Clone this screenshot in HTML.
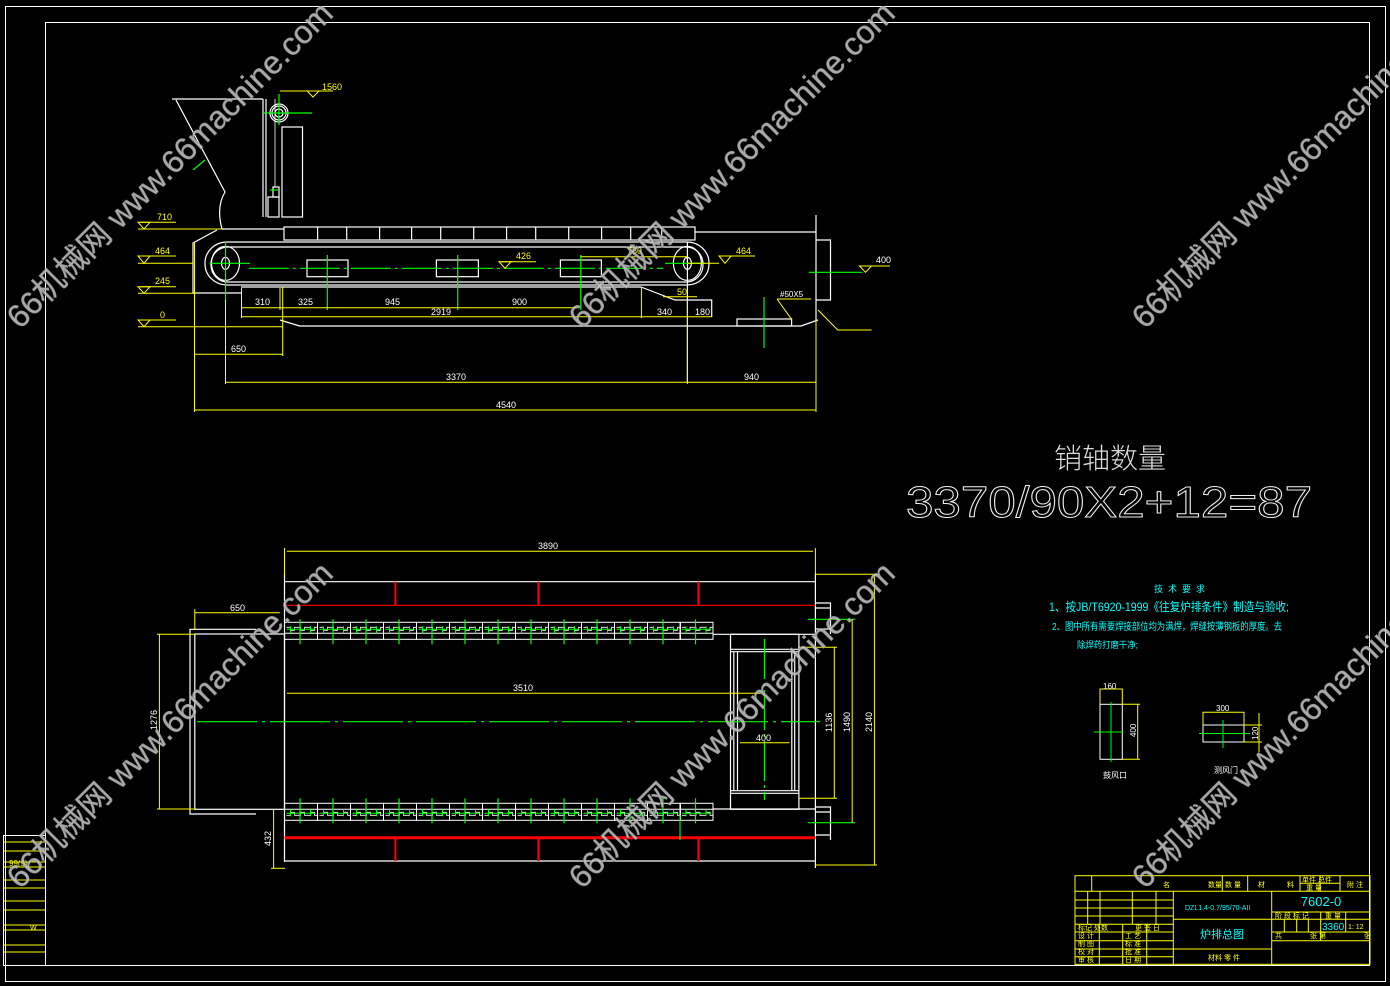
<!DOCTYPE html>
<html><head><meta charset="utf-8"><style>
html,body{margin:0;padding:0;background:#000;}
svg{display:block;}
text{font-family:"Liberation Sans","Noto Sans CJK SC",sans-serif;}
</style></head><body>
<svg width="1390" height="986" viewBox="0 0 1390 986" xmlns="http://www.w3.org/2000/svg">
<defs>
<g id="cellT">
 <rect x="0" y="0" width="33" height="17" fill="none" stroke="#fff" stroke-width="1"/>
 <line x1="0" y1="11" x2="33" y2="11" stroke="#fff"/>
 <path d="M2,5 h4 v3 h4 v-3 h6 v3 h4 v-3 h6 v3 h4 v-3 h3" fill="none" stroke="#fff" stroke-width="0.8"/>
 <line x1="2" y1="7" x2="31" y2="7" stroke="#0f0" stroke-width="1"/>
 <line x1="15.5" y1="-3" x2="15.5" y2="22" stroke="#0f0" stroke-width="1.2"/>
 <line x1="6" y1="4" x2="6" y2="11" stroke="#0f0"/>
 <line x1="26" y1="4" x2="26" y2="11" stroke="#0f0"/>
</g>
<g id="cellB">
 <rect x="0" y="0" width="33" height="17" fill="none" stroke="#fff" stroke-width="1"/>
 <line x1="0" y1="6" x2="33" y2="6" stroke="#fff"/>
 <path d="M2,12 h4 v-3 h4 v3 h6 v-3 h4 v3 h6 v-3 h4 v3 h3" fill="none" stroke="#fff" stroke-width="0.8"/>
 <line x1="2" y1="10" x2="31" y2="10" stroke="#0f0" stroke-width="1"/>
 <line x1="15.5" y1="-5" x2="15.5" y2="20" stroke="#0f0" stroke-width="1.2"/>
 <line x1="6" y1="6" x2="6" y2="13" stroke="#0f0"/>
 <line x1="26" y1="6" x2="26" y2="13" stroke="#0f0"/>
</g>
</defs>
<rect width="1390" height="986" fill="#000"/>
<!-- borders -->
<rect x="5.5" y="6.5" width="1380" height="975" fill="none" stroke="#fff"/>
<rect x="45.5" y="22.5" width="1324" height="943" fill="none" stroke="#fff"/>
<!-- left strip -->
<g stroke="#ff0" fill="none">
<rect x="3.5" y="835.5" width="42" height="130" stroke="#fff"/>
<line x1="3" y1="842" x2="45" y2="842"/><line x1="3" y1="851" x2="45" y2="851"/><line x1="3" y1="862" x2="45" y2="862"/>
<line x1="3" y1="867" x2="45" y2="867"/><line x1="3" y1="880" x2="45" y2="880"/><line x1="3" y1="888" x2="45" y2="888"/>
<line x1="3" y1="901" x2="45" y2="901"/><line x1="3" y1="910" x2="45" y2="910"/><line x1="3" y1="925" x2="45" y2="925"/>
<line x1="3" y1="930" x2="45" y2="930"/><line x1="3" y1="945" x2="45" y2="945"/><line x1="3" y1="952" x2="45" y2="952"/>
</g>
<text x="9" y="866" font-size="8" fill="#ff0">99(9)</text>
<text x="30" y="930" font-size="7" fill="#ff0">W</text>

<!-- ===== TOP VIEW ===== -->
<g stroke="#fff" fill="none" stroke-width="1.2">
 <path d="M172,99 L263,99"/>
 <path d="M176,100 L225,192 Q216,207 222,229"/>
 <line x1="263" y1="99" x2="263" y2="217"/><line x1="266" y1="99" x2="266" y2="217"/>
 <line x1="275" y1="99" x2="275" y2="187" stroke-width="0.8"/>
 <rect x="282" y="127" width="20.5" height="90"/>
 <circle cx="279" cy="113" r="9"/><circle cx="279" cy="113" r="7"/><circle cx="279" cy="113" r="4"/>
 <rect x="268" y="197" width="11" height="20"/>
 <rect x="273" y="187" width="6" height="10"/>
 <path d="M222,229 L284,229"/>
 <rect x="284" y="227" width="411" height="13"/>
 <path d="M317.6,227v13M346.7,227v13M379.6,227v13M411.6,227v13M440.7,227v13M473.7,227v13M506.6,227v13M535.7,227v13M568.7,227v13M601.6,227v13M630.7,227v13M661.7,227v13"/>
 <path d="M695,232 L816,232"/>
 <line x1="816" y1="215" x2="816" y2="320"/>
 <path d="M217,230 L193,243 L193,293 L241,293"/>
 <line x1="241" y1="287" x2="641" y2="287"/>
 <rect x="205" y="242" width="504" height="43" rx="22" ry="21"/>
 <rect x="211" y="247" width="492" height="35" rx="17" ry="17"/>
 <ellipse cx="225.5" cy="263.3" rx="14" ry="17"/><ellipse cx="687.4" cy="263.3" rx="14" ry="17"/>
 <ellipse cx="225.5" cy="263.3" rx="4" ry="6"/><ellipse cx="687.4" cy="263.3" rx="4" ry="6"/>
 <rect x="307" y="260" width="41" height="16.7"/>
 <rect x="436.4" y="260" width="42" height="16.7"/>
 <rect x="560.4" y="260" width="41" height="16.7"/>
 <path d="M280,320 L299.7,326 L801,326 L818,320"/>
 <path d="M641,287 L675,300 L711.7,300 L711.7,317"/>
 <rect x="737" y="319" width="54.6" height="7"/>
 <path d="M816,240 L830.5,240 L830.5,300 L816,300"/>
 <path d="M818,310 L837.7,330 L871.6,330" stroke="#ff0" stroke-width="1"/>
</g>
<!-- green centers top view -->
<g stroke="#0f0" stroke-width="1.2" fill="none">
 <line x1="248.8" y1="268.3" x2="663" y2="268.3" stroke-dasharray="40 4 3 4"/>
 <line x1="263" y1="113" x2="312" y2="113"/><line x1="279" y1="94" x2="279" y2="125"/>
 <line x1="193" y1="170" x2="205" y2="160"/>
 <line x1="327.3" y1="255" x2="327.3" y2="310"/><line x1="457.7" y1="255" x2="457.7" y2="310"/><line x1="580.8" y1="255" x2="580.8" y2="310"/>
 <line x1="225.5" y1="242" x2="225.5" y2="302"/><line x1="687.4" y1="242" x2="687.4" y2="383" stroke="#fff"/>
 <line x1="210" y1="263.3" x2="250" y2="263.3"/><line x1="665" y1="263.3" x2="705" y2="263.3"/>
 <line x1="764" y1="297" x2="764" y2="348"/>
 <line x1="808.6" y1="272.3" x2="862" y2="272.3"/>
 <line x1="270" y1="190" x2="278" y2="190"/>
</g>
<!-- level markers -->
<g stroke="#ff0" fill="none">
 <line x1="280" y1="91" x2="333" y2="91"/><path d="M307,91 L319,91 L313,97 Z"/>
 <line x1="140" y1="222.3" x2="176" y2="222.3"/><path d="M138,222.3 L150,222.3 L144,229 Z"/><line x1="138" y1="229" x2="222" y2="229"/>
 <line x1="140" y1="256" x2="176" y2="256"/><path d="M138,256 L150,256 L144,263.3 Z"/><line x1="138" y1="263.3" x2="193" y2="263.3"/>
 <line x1="140" y1="286.7" x2="176" y2="286.7"/><path d="M138,286.7 L150,286.7 L144,293.3 Z"/><line x1="138" y1="293.3" x2="193" y2="293.3"/>
 <line x1="140" y1="320" x2="176" y2="320"/><path d="M138,320 L150,320 L144,326.7 Z"/><line x1="138" y1="326.7" x2="282.7" y2="326.7"/>
 <line x1="719" y1="256" x2="755" y2="256"/><path d="M719,256 L731,256 L725,263.3 Z"/><line x1="687" y1="263.3" x2="719" y2="263.3"/>
 <line x1="499" y1="261.7" x2="536" y2="261.7"/><path d="M499,261.7 L511,261.7 L505,268.3 Z"/>
 <line x1="859.5" y1="266" x2="890" y2="266"/><path d="M859.5,266 L871.5,266 L865.5,272.3 Z"/>
 <path d="M777,299 L791.6,319.3 M777,299 L811,299"/>
 <line x1="241.5" y1="307.7" x2="577" y2="307.7"/>
 <line x1="241.5" y1="316.7" x2="711.7" y2="316.7"/>
 <line x1="580.8" y1="256.7" x2="687.4" y2="256.7"/>
 <line x1="663" y1="296.7" x2="697" y2="296.7"/>
 <line x1="194.5" y1="354.3" x2="282.7" y2="354.3"/>
 <line x1="225.5" y1="382.3" x2="816" y2="382.3"/>
 <line x1="194.5" y1="410" x2="816" y2="410"/>
 <line x1="194.5" y1="243" x2="194.5" y2="412"/>
 <line x1="225.5" y1="300" x2="225.5" y2="384"/>
 <line x1="282.7" y1="287" x2="282.7" y2="356"/>
 <line x1="241.5" y1="288" x2="241.5" y2="318"/>
 <line x1="280" y1="288" x2="280" y2="310"/>
 <line x1="641.4" y1="287" x2="641.4" y2="318"/>
 <line x1="816" y1="320" x2="816" y2="412"/>
 <line x1="687.4" y1="300" x2="687.4" y2="384"/>
</g>
<g fill="#ff0" font-size="9">
 <text x="322" y="90">1560</text><text x="157" y="220">710</text><text x="155" y="254">464</text>
 <text x="155" y="284">245</text><text x="160" y="318">0</text><text x="736" y="254">464</text>
 <text x="516" y="259">426</text><text x="627" y="254">780</text><text x="677" y="295">50</text>
 <text x="876" y="263" fill="#fff">400</text>
 <text x="780" y="297" fill="#fff" font-size="8">#50X5</text>
 <text x="255" y="305" fill="#fff">310</text><text x="298" y="305" fill="#fff">325</text><text x="385" y="305" fill="#fff">945</text><text x="512" y="305" fill="#fff">900</text>
 <text x="431" y="315" fill="#fff">2919</text><text x="657" y="315" fill="#fff">340</text><text x="695" y="315" fill="#fff">180</text>
 <text x="231" y="352" fill="#fff">650</text><text x="446" y="380" fill="#fff">3370</text><text x="744" y="380" fill="#fff">940</text>
 <text x="496" y="408" fill="#fff">4540</text>
</g>

<!-- ===== BOTTOM VIEW ===== -->
<g stroke="#fff" fill="none" stroke-width="1.2">
 <line x1="284.5" y1="573" x2="284.5" y2="862"/>
 <line x1="815.4" y1="573" x2="815.4" y2="868"/>
 <line x1="284.5" y1="581.7" x2="815.4" y2="581.7"/>
 <line x1="284.5" y1="861" x2="815.4" y2="861"/>
 <line x1="712.5" y1="634.3" x2="815.4" y2="634.3"/>
 <line x1="712.5" y1="809" x2="815.4" y2="809"/>
 <path d="M256,629.3 L190,629.3 L190,814 L256,814"/>
 <rect x="194.8" y="634" width="89.7" height="175.3"/>
 <rect x="730.5" y="634.3" width="68.4" height="175"/>
 <line x1="730.5" y1="649.3" x2="798.9" y2="649.3"/><line x1="730.5" y1="651.7" x2="798.9" y2="651.7"/>
 <line x1="730.5" y1="790.7" x2="798.9" y2="790.7"/><line x1="730.5" y1="793.3" x2="798.9" y2="793.3"/>
 <line x1="733.8" y1="651.7" x2="733.8" y2="790.7"/><line x1="737.5" y1="651.7" x2="737.5" y2="790.7"/>
 <line x1="791.8" y1="651.7" x2="791.8" y2="790.7"/><line x1="794.7" y1="651.7" x2="794.7" y2="790.7"/>
 <path d="M815.4,603 L830.5,603 L830.5,634 M815.4,608 L830.5,608 M815.4,629 L830.5,629"/>
 <path d="M815.4,807 L830.5,807 L830.5,840 M815.4,812 L830.5,812 M815.4,835 L830.5,835"/>
</g>
<g stroke="#f00" fill="none">
 <line x1="284.5" y1="605.3" x2="815.4" y2="605.3" stroke-width="1.2"/>
 <line x1="395.4" y1="581.7" x2="395.4" y2="605.3" stroke-width="2"/>
 <line x1="538.4" y1="581.7" x2="538.4" y2="605.3" stroke-width="2"/>
 <line x1="698.4" y1="581.7" x2="698.4" y2="605.3" stroke-width="2"/>
 <line x1="284.5" y1="837.7" x2="815.4" y2="837.7" stroke-width="3"/>
 <line x1="395.4" y1="837.7" x2="395.4" y2="861" stroke-width="2"/>
 <line x1="538.4" y1="837.7" x2="538.4" y2="861" stroke-width="2"/>
 <line x1="698.4" y1="837.7" x2="698.4" y2="861" stroke-width="2"/>
</g>
<g>
<use href="#cellT" x="284.5" y="622.3"/><use href="#cellT" x="317.5" y="622.3"/><use href="#cellT" x="350.5" y="622.3"/><use href="#cellT" x="383.5" y="622.3"/><use href="#cellT" x="416.5" y="622.3"/><use href="#cellT" x="449.5" y="622.3"/><use href="#cellT" x="482.5" y="622.3"/><use href="#cellT" x="515.5" y="622.3"/><use href="#cellT" x="548.5" y="622.3"/><use href="#cellT" x="581.5" y="622.3"/><use href="#cellT" x="614.5" y="622.3"/><use href="#cellT" x="647.5" y="622.3"/><use href="#cellT" x="680" y="622.3"/>
<use href="#cellB" x="284.5" y="803.3"/><use href="#cellB" x="317.5" y="803.3"/><use href="#cellB" x="350.5" y="803.3"/><use href="#cellB" x="383.5" y="803.3"/><use href="#cellB" x="416.5" y="803.3"/><use href="#cellB" x="449.5" y="803.3"/><use href="#cellB" x="482.5" y="803.3"/><use href="#cellB" x="515.5" y="803.3"/><use href="#cellB" x="548.5" y="803.3"/><use href="#cellB" x="581.5" y="803.3"/><use href="#cellB" x="614.5" y="803.3"/><use href="#cellB" x="647.5" y="803.3"/><use href="#cellB" x="680" y="803.3"/>
</g>
<g stroke="#0f0" fill="none" stroke-width="1.1">
 <line x1="197" y1="721.7" x2="820" y2="721.7" stroke-dasharray="60 5 3 5"/>
 <line x1="764.4" y1="639" x2="764.4" y2="800" stroke-dasharray="40 4 3 4"/>
 <line x1="808" y1="619.3" x2="855" y2="619.3"/><line x1="808" y1="822.7" x2="855" y2="822.7"/>
 <line x1="680" y1="815" x2="680" y2="840"/>
</g>
<g stroke="#ff0" fill="none">
 <line x1="286.9" y1="551.3" x2="813" y2="551.3"/><line x1="284.5" y1="548" x2="284.5" y2="575"/><line x1="815.4" y1="548" x2="815.4" y2="575"/>
 <line x1="194.8" y1="612.7" x2="279.8" y2="612.7"/><line x1="194.8" y1="609" x2="194.8" y2="630"/>
 <line x1="286.9" y1="693.3" x2="761" y2="693.3"/>
 <line x1="740" y1="742.7" x2="789.5" y2="742.7"/>
 <line x1="159.4" y1="634.3" x2="159.4" y2="809"/><line x1="157" y1="634.3" x2="195" y2="634.3"/><line x1="157" y1="809" x2="195" y2="809"/>
 <line x1="273.6" y1="809.3" x2="273.6" y2="868.3"/><line x1="271" y1="868.3" x2="285" y2="868.3"/>
 <line x1="834.3" y1="647.3" x2="834.3" y2="798.3"/><line x1="799" y1="647.3" x2="837" y2="647.3"/><line x1="799" y1="798.3" x2="837" y2="798.3"/>
 <line x1="852.2" y1="619.3" x2="852.2" y2="822.7"/>
 <line x1="874.4" y1="574.3" x2="874.4" y2="865"/><line x1="815.4" y1="574.3" x2="877" y2="574.3"/><line x1="815.4" y1="865" x2="877" y2="865"/>
</g>
<g fill="#fff" font-size="9">
 <text x="538" y="549">3890</text><text x="230" y="611">650</text><text x="513" y="691">3510</text><text x="756" y="741">400</text>
 <text transform="translate(157,730) rotate(-90)">1276</text>
 <text transform="translate(271,846) rotate(-90)">432</text>
 <text transform="translate(832,732) rotate(-90)">1136</text>
 <text transform="translate(850,732) rotate(-90)">1490</text>
 <text transform="translate(872,732) rotate(-90)">2140</text>
</g>

<!-- right text -->
<text x="1110" y="468" font-size="28" fill="#ddd" text-anchor="middle" font-family="'Noto Sans CJK SC',sans-serif" font-weight="300">销轴数量</text>
<text x="906" y="517" font-size="44" fill="none" stroke="#eee" stroke-width="1" textLength="406" lengthAdjust="spacingAndGlyphs">3370/90X2+12=87</text>

<g fill="#0ff" font-family="'Liberation Sans','Noto Sans CJK SC',sans-serif">
 <text x="1154" y="592" font-size="9" letter-spacing="5">技术要求</text>
 <text x="1049" y="611" font-size="12" textLength="240" lengthAdjust="spacingAndGlyphs">1、按JB/T6920-1999《往复炉排条件》制造与验收;</text>
 <text x="1052" y="630" font-size="10" textLength="230" lengthAdjust="spacingAndGlyphs">2、图中所有需要焊接部位均为满焊，焊缝按薄钢板的厚度。去</text>
 <text x="1077" y="648" font-size="9" textLength="61" lengthAdjust="spacingAndGlyphs">除焊药打磨干净;</text>
</g>
<!-- small diagrams -->
<g stroke="#fff" fill="none">
 <rect x="1100" y="704.3" width="22.3" height="55"/>
 <rect x="1203" y="725" width="41" height="17"/>
</g>
<g stroke="#ff0" fill="none">
 <path d="M1100,704 L1100,689 L1122.3,689 L1122.3,704"/>
 <path d="M1122.3,704.3 L1140,704.3 M1122.3,759.3 L1140,759.3 M1137.7,704.3 L1137.7,759.3"/>
 <path d="M1203,725 L1203,712.3 L1244,712.3 L1244,725"/>
 <path d="M1244,725 L1262,725 M1244,742 L1262,742 M1259,713 L1259,752"/>
</g>
<g stroke="#0f0"><line x1="1094" y1="732" x2="1123" y2="732"/><line x1="1111" y1="702" x2="1111" y2="762"/>
<line x1="1199" y1="733.5" x2="1250" y2="733.5"/><line x1="1223" y1="720" x2="1223" y2="748"/></g>
<g fill="#fff" font-size="8">
 <text x="1103" y="689">160</text><text x="1216" y="711">300</text>
 <text transform="translate(1136,737) rotate(-90)">400</text>
 <text transform="translate(1258,740) rotate(-90)">120</text>
 <text x="1103" y="778" font-family="'Noto Sans CJK SC',sans-serif">鼓风口</text>
 <text x="1214" y="773" font-family="'Noto Sans CJK SC',sans-serif">测风门</text>
</g>

<!-- title block -->
<g stroke="#ff0" fill="none" stroke-width="1">
 <rect x="1075" y="875.7" width="295" height="88.6"/>
 <line x1="1075" y1="891.3" x2="1370" y2="891.3"/>
 <line x1="1075" y1="900" x2="1173.3" y2="900"/><line x1="1075" y1="908" x2="1173.3" y2="908"/><line x1="1075" y1="916" x2="1173.3" y2="916"/>
 <line x1="1075" y1="924.3" x2="1173.3" y2="924.3"/><line x1="1075" y1="932" x2="1173.3" y2="932"/><line x1="1075" y1="940.7" x2="1173.3" y2="940.7"/>
 <line x1="1075" y1="949" x2="1173.3" y2="949"/><line x1="1075" y1="956.7" x2="1173.3" y2="956.7"/>
 <line x1="1173.3" y1="891.3" x2="1173.3" y2="964.3"/>
 <line x1="1173.3" y1="919.3" x2="1271.7" y2="919.3"/><line x1="1173.3" y1="949" x2="1271.7" y2="949"/>
 <line x1="1271.7" y1="891.3" x2="1271.7" y2="964.3"/>
 <line x1="1271.7" y1="912" x2="1370" y2="912"/><line x1="1271.7" y1="919.3" x2="1370" y2="919.3"/>
 <line x1="1271.7" y1="932" x2="1370" y2="932"/><line x1="1271.7" y1="940.7" x2="1370" y2="940.7"/>
 <line x1="1091.7" y1="875.7" x2="1091.7" y2="891.3"/><line x1="1222.3" y1="875.7" x2="1222.3" y2="891.3"/>
 <line x1="1247.7" y1="875.7" x2="1247.7" y2="891.3"/><line x1="1300" y1="875.7" x2="1300" y2="891.3"/>
 <line x1="1320" y1="875.7" x2="1320" y2="891.3"/><line x1="1340" y1="875.7" x2="1340" y2="891.3"/>
 <line x1="1300" y1="883.3" x2="1340" y2="883.3"/>
 <line x1="1087.7" y1="891.3" x2="1087.7" y2="924.3"/><line x1="1100" y1="891.3" x2="1100" y2="924.3"/>
 <line x1="1132.3" y1="891.3" x2="1132.3" y2="924.3"/><line x1="1156" y1="891.3" x2="1156" y2="924.3"/>
 <line x1="1099.3" y1="924.3" x2="1099.3" y2="964.3"/><line x1="1122.7" y1="924.3" x2="1122.7" y2="964.3"/>
 <line x1="1146.7" y1="924.3" x2="1146.7" y2="964.3"/>
 <line x1="1284.3" y1="919.3" x2="1284.3" y2="932"/><line x1="1296.7" y1="919.3" x2="1296.7" y2="932"/>
 <line x1="1308.3" y1="919.3" x2="1308.3" y2="932"/><line x1="1320.7" y1="912" x2="1320.7" y2="940.7"/>
 <line x1="1345.7" y1="912" x2="1345.7" y2="932"/>
</g>
<g fill="#ff0" font-size="7" font-family="'Noto Sans CJK SC',sans-serif">
 <text x="1163" y="887">名</text><text x="1208" y="887">数量</text><text x="1225" y="887">数 量</text><text x="1258" y="887">材</text><text x="1287" y="887">料</text>
 <text x="1302" y="882">单件 总件</text><text x="1306" y="890">重 量</text><text x="1347" y="887">附 注</text>
 <text x="1078" y="930">标记 处数</text><text x="1135" y="930">更 签 日</text>
 <text x="1078" y="938">设 计</text><text x="1125" y="938">工 艺</text>
 <text x="1078" y="946">制 图</text><text x="1125" y="946">标 准</text>
 <text x="1078" y="954">校 对</text><text x="1125" y="954">批 准</text>
 <text x="1078" y="962">审 核</text><text x="1125" y="962">日 期</text>
 <text x="1208" y="960">材料  零 件</text>
 <text x="1275" y="918">阶 段 标 记</text><text x="1325" y="918">重 量</text>
 <text x="1275" y="938">共</text><text x="1310" y="938">张 第</text><text x="1364" y="938">张</text>
 <text x="1348" y="929" fill="#ff0">1: 12</text>
</g>
<g fill="#0ff">
 <text x="1321" y="906" font-size="13" text-anchor="middle">7602-0</text>
 <text x="1185" y="910" font-size="7">DZL1.4-0.7/95/70-AII</text>
 <text x="1222" y="938" font-size="11" text-anchor="middle" font-family="'Noto Sans CJK SC',sans-serif">炉排总图</text>
 <text x="1322" y="930" font-size="10">3360</text>
</g>

<!-- watermarks -->
<g fill="#c8c8c8" fill-opacity="0.85" stroke="#888" stroke-width="0.6" font-size="32" font-family="'Liberation Sans','Noto Sans CJK SC',sans-serif">
 <text transform="translate(20,330) rotate(-45)" textLength="445" lengthAdjust="spacingAndGlyphs">66机械网 www.66machine.com</text>
 <text transform="translate(582,330) rotate(-45)" textLength="445" lengthAdjust="spacingAndGlyphs">66机械网 www.66machine.com</text>
 <text transform="translate(1145,330) rotate(-45)" textLength="445" lengthAdjust="spacingAndGlyphs">66机械网 www.66machine.com</text>
 <text transform="translate(20,890) rotate(-45)" textLength="445" lengthAdjust="spacingAndGlyphs">66机械网 www.66machine.com</text>
 <text transform="translate(582,890) rotate(-45)" textLength="445" lengthAdjust="spacingAndGlyphs">66机械网 www.66machine.com</text>
 <text transform="translate(1145,890) rotate(-45)" textLength="445" lengthAdjust="spacingAndGlyphs">66机械网 www.66machine.com</text>
</g>
</svg>
</body></html>
